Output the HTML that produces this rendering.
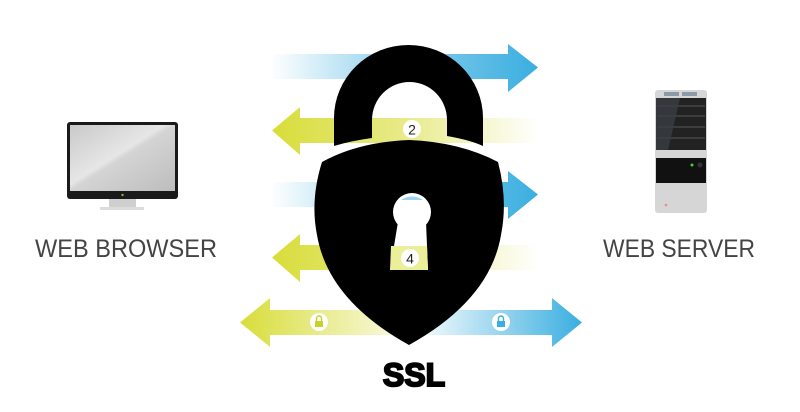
<!DOCTYPE html>
<html><head><meta charset="utf-8"><style>
html,body{margin:0;padding:0;background:#fff;width:800px;height:412px;overflow:hidden}
</style></head><body>
<svg width="800" height="412" viewBox="0 0 800 412" xmlns="http://www.w3.org/2000/svg" font-family="Liberation Sans, sans-serif">
<defs>
<linearGradient id="bR" x1="270" x2="538" y1="0" y2="0" gradientUnits="userSpaceOnUse"><stop offset="0" stop-color="#3aaee0" stop-opacity="0"/><stop offset="0.5" stop-color="#3aaee0" stop-opacity="0.6"/><stop offset="1" stop-color="#3aaee0"/></linearGradient>
<linearGradient id="yL" x1="538" x2="272" y1="0" y2="0" gradientUnits="userSpaceOnUse"><stop offset="0" stop-color="#d8dd3a" stop-opacity="0"/><stop offset="0.5" stop-color="#d8dd3a" stop-opacity="0.6"/><stop offset="1" stop-color="#d8dd3a"/></linearGradient>
<linearGradient id="y5" x1="410" x2="240" y1="0" y2="0" gradientUnits="userSpaceOnUse"><stop offset="0" stop-color="#d8dd3a" stop-opacity="0.1"/><stop offset="1" stop-color="#d8dd3a"/></linearGradient>
<linearGradient id="b5" x1="420" x2="582" y1="0" y2="0" gradientUnits="userSpaceOnUse"><stop offset="0" stop-color="#3aaee0" stop-opacity="0.05"/><stop offset="1" stop-color="#3aaee0"/></linearGradient>
<linearGradient id="scr" x1="0" y1="0" x2="1" y2="1"><stop offset="0" stop-color="#c9c9c9"/><stop offset="0.45" stop-color="#e6e6e6"/><stop offset="0.5" stop-color="#d4d4d4"/><stop offset="1" stop-color="#bdbdbd"/></linearGradient>
</defs>
<path d="M270 54H508V44L538 67.5L508 92V79H270Z" fill="url(#bR)"/>
<path d="M538 118H300V107L272 130.5L300 155V143H538Z" fill="url(#yL)"/>
<path d="M270 182H508V171L538 194.5L508 219V207H270Z" fill="url(#bR)"/>
<path d="M538 245H300V234L272 257.5L300 282V270H538Z" fill="url(#yL)"/>
<path d="M410 310H270V298L240 322.5L270 347V335H410Z" fill="url(#y5)"/>
<path d="M410 310H552V298L582 322.5L552 347V335H410Z" fill="url(#b5)"/>
<circle cx="412" cy="129" r="9" fill="#fff"/>
<text x="412" y="134.5" font-size="14" text-anchor="middle" fill="#222">2</text>
<circle cx="319" cy="322" r="9" fill="#fff"/>
<rect x="315" y="321" width="8" height="6" fill="#c9cf2c"/><path d="M316.5 321v-2.5a2.5 2.5 0 0 1 5 0V321" fill="none" stroke="#c9cf2c" stroke-width="1.4"/>
<circle cx="501" cy="322" r="9" fill="#fff"/>
<rect x="497" y="321" width="8" height="6" fill="#3aaee0"/><path d="M498.5 321v-2.5a2.5 2.5 0 0 1 5 0V321" fill="none" stroke="#3aaee0" stroke-width="1.4"/>
<path d="M334 146V118A74.5 73 0 0 1 483 118V146Q470 140 447 136V120A37.5 38 0 0 0 372 120V138Q350 141 334 146Z" fill="#000"/>
<path d="M409 140Q460 142 498 162Q508 200 501 235Q490 300 409 345Q328 300 317 235Q310 200 322 162Q358 142 409 140Z" fill="#000"/>
<circle cx="412" cy="212" r="19" fill="#fff"/>
<path d="M398 222H426L428 270H390Z" fill="#fff"/>
<path d="M401 200A19 19 0 0 1 423 200Z" fill="#9fd3ee"/>
<path d="M391 246H427L428 270H390Z" fill="#ecef9a"/>
<circle cx="410" cy="258" r="9" fill="#fff"/>
<text x="410" y="263.5" font-size="14" text-anchor="middle" fill="#222">4</text>
<text x="414" y="386" font-size="32" font-weight="bold" text-anchor="middle" fill="#000" stroke="#000" stroke-width="2">SSL</text>
<rect x="67" y="122" width="111" height="77" rx="3" fill="#1a1a1a"/>
<rect x="70" y="125" width="105" height="66" fill="url(#scr)"/>
<circle cx="122.5" cy="195" r="1.2" fill="#9aa83a"/>
<path d="M109 199H136V207H109Z" fill="#cfcfcf"/>
<rect x="100" y="207" width="44" height="3" fill="#dcdcdc"/>
<text x="35" y="257" font-size="25" fill="#444" textLength="182" lengthAdjust="spacingAndGlyphs">WEB BROWSER</text>
<rect x="655" y="90" width="52" height="123" rx="3" fill="#d6d6d6"/>
<rect x="664" y="92" width="15" height="4" fill="#8a9aa6"/><rect x="682" y="92" width="15" height="4" fill="#8a9aa6"/>
<rect x="656" y="98" width="50" height="52" fill="#222"/>
<g stroke="#555" stroke-width="1"><line x1="657" y1="106" x2="705" y2="106"/><line x1="657" y1="116" x2="705" y2="116"/><line x1="657" y1="127" x2="705" y2="127"/><line x1="657" y1="138" x2="705" y2="138"/></g>
<path d="M656 98H680L668 150H656Z" fill="#3a3f44" opacity="0.8"/>
<rect x="656" y="158" width="50" height="25" fill="#111"/>
<circle cx="692" cy="165" r="1.5" fill="#4c4"/><circle cx="700" cy="165" r="2.5" fill="#333"/>
<circle cx="666" cy="205" r="1.3" fill="#e88"/>
<text x="603" y="257" font-size="25" fill="#444" textLength="152" lengthAdjust="spacingAndGlyphs">WEB SERVER</text>
</svg>
</body></html>
